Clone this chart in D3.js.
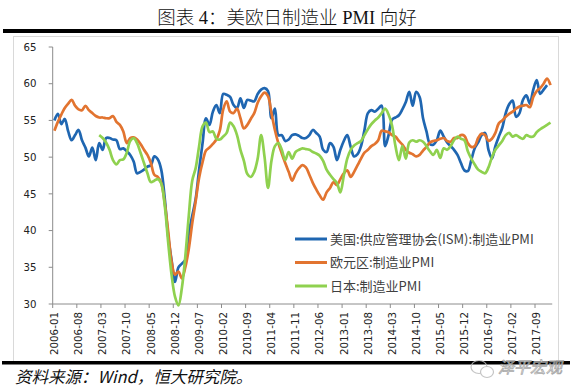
<!DOCTYPE html>
<html>
<head>
<meta charset="utf-8">
<script src="https://cdn.jsdelivr.net/npm/d3@7"></script>
<style>
  body { margin: 0; background: #fff; }
  svg { display: block; }
</style>
</head>
<body>
<svg id="chart"></svg>
<script>
// months 2006-01 .. 2018-01
const months = [];
for (let yr = 2006; yr <= 2018; yr++) {
  for (let m = 1; m <= 12; m++) {
    if (yr === 2018 && m > 1) break;
    months.push(yr + '-' + String(m).padStart(2, '0'));
  }
}

const tickLabels = ['2006-01', '2006-08', '2007-03', '2007-10', '2008-05', '2008-12', '2009-07',
  '2010-02', '2010-09', '2011-04', '2011-11', '2012-06', '2013-01', '2013-08', '2014-03',
  '2014-10', '2015-05', '2015-12', '2016-07', '2017-02', '2017-09'];

const yTicks = [30, 35, 40, 45, 50, 55, 60, 65];

const seriesNames = ['美国:供应管理协会(ISM):制造业PMI', '欧元区:制造业PMI', '日本:制造业PMI'];

// US ISM, 2006-01 .. 2017-12
const usIsm = [
  55.0, 55.9, 54.5, 55.2, 53.5, 52.3, 53.0, 53.7, 52.3, 51.3, 50.1, 51.3,
  49.6, 51.9, 51.0, 52.6, 52.6, 52.4, 52.3, 51.1, 51.2, 50.8, 50.3, 49.4,
  47.8, 48.0, 48.3, 48.7, 48.9, 50.1, 49.7, 48.3, 44.5, 39.3, 36.0, 33.0,
  35.0, 35.5, 36.0, 39.6, 42.0, 44.3, 48.3, 51.9, 55.3, 54.4, 56.2, 57.1,
  56.0, 58.6, 58.5, 58.2, 57.1, 56.7, 58.0, 56.7, 57.8, 57.7, 57.6, 58.6,
  59.2, 59.4, 59.0, 55.3, 56.6, 53.0, 53.0, 52.2, 52.4, 53.0, 53.1, 52.9,
  52.6, 52.6, 53.0, 53.7, 53.3, 52.8, 51.0, 50.7, 51.9, 51.4, 49.6, 51.0,
  52.2, 53.0, 51.4, 50.1, 50.4, 51.5, 53.7, 56.0, 56.4, 56.2, 56.6, 57.0,
  51.5, 53.0, 55.1, 55.4, 55.7, 56.5, 57.5, 58.9, 57.0, 58.9, 58.2, 55.3,
  53.5, 51.8, 51.7, 52.3, 53.6, 52.8, 52.0, 51.5, 51.0, 50.3, 49.2, 48.2,
  48.1, 49.6, 51.2, 52.0, 53.0, 53.3, 51.0, 49.8, 51.5, 52.8, 54.0, 56.0,
  57.2, 57.7, 55.5, 56.0, 57.8, 58.4, 57.3, 59.2, 60.5, 58.6, 59.2, 59.8
];

// Eurozone, 2006-01 .. 2018-01
const euroPmi = [
  53.6, 54.8, 55.8, 56.7, 57.3, 57.8, 57.0, 56.5, 56.4, 57.0, 56.4, 56.0,
  55.6, 55.4, 55.4, 55.3, 55.3, 55.6, 54.8, 54.4, 53.5, 51.9, 52.6, 52.7,
  52.4, 51.8, 51.0, 50.3, 49.2, 47.6, 47.3, 46.5, 43.8, 40.0, 35.8, 34.0,
  34.4, 33.5, 35.0, 37.5, 41.0, 44.0, 47.2, 49.3, 50.9, 51.3, 51.8, 52.4,
  53.6, 56.5, 57.6, 56.2, 56.0, 56.6, 55.3, 53.9, 54.4, 55.2, 56.0, 57.4,
  58.3, 58.8, 58.3, 56.0, 53.7, 51.9, 50.5, 49.2, 48.0, 46.8, 47.8, 48.5,
  48.9, 48.6, 47.6, 46.5, 45.6, 44.8, 44.2, 45.2, 45.8, 46.6, 46.2, 47.0,
  47.8, 48.2, 47.3, 48.0, 48.9, 49.8, 50.6, 51.0, 51.5, 51.8, 52.3, 53.6,
  53.5, 53.4, 53.0, 52.8, 52.2, 51.7, 51.0, 50.6, 50.4, 50.1, 50.3, 50.9,
  51.4, 52.0, 52.2, 52.3, 52.5, 52.6, 52.2, 52.1, 52.6, 52.6, 53.0, 52.9,
  51.9, 51.4, 51.5, 52.6, 53.2, 53.0, 52.2, 52.5, 53.3, 54.6, 55.0, 55.5,
  55.9, 56.2, 56.6, 56.9, 57.0, 57.1, 56.8, 58.2, 59.0, 59.4, 60.0, 60.7,
  59.8
];

// Japan, starts 2007-02
const japanPmi = [
  null, null, null, null, null, null, null, null, null, null, null, null,
  null, 53.0, 52.6, 52.0, 51.0, 49.6, 49.0, 49.6, 49.7, 50.6, 52.2, 52.6,
  51.9, 50.6, 49.2, 47.8, 46.6, 46.8, 47.0, 46.4, 43.5, 38.5, 34.0, 31.0,
  29.8, 32.2, 36.5, 42.0, 46.8, 48.5, 51.5, 54.2, 54.7, 53.4, 53.5, 52.5,
  52.4, 52.8, 53.3, 54.7, 54.2, 53.0, 51.0, 49.5, 47.7, 47.3, 48.0, 49.8,
  53.0, 50.0, 45.8, 49.5, 51.5, 51.9, 51.0, 49.6, 50.7, 49.8, 50.7, 51.0,
  51.2, 51.1, 51.0, 50.7, 50.5, 50.2, 49.5, 48.3, 47.6, 47.0, 46.5, 45.2,
  47.5, 49.8, 51.0, 51.6, 51.9, 52.2, 53.0, 53.8, 54.5, 55.0, 55.4, 56.0,
  56.6, 55.8, 54.3, 51.5, 49.6, 51.5, 49.8, 52.0, 52.3, 52.1, 52.3, 52.1,
  51.5, 50.8, 50.3, 51.0, 49.9, 51.2, 51.0, 51.5, 52.3, 52.8, 52.5, 52.3,
  50.8, 49.8, 49.0, 48.3, 48.0, 47.8, 48.6, 50.0, 51.0, 51.6, 52.2, 53.0,
  53.3, 52.8, 53.0, 52.7, 52.5, 53.0, 52.8, 52.8, 53.4, 53.8, 54.1, 54.4,
  54.7
];

const colors = ['#1f66b1', '#e27430', '#8fd14f'];
const series = [usIsm, euroPmi, japanPmi];

const width = 573, height = 391;
const svg = d3.select('#chart').attr('width', width).attr('height', height);

// title + rules
svg.append('text')
  .attr('x', 287).attr('y', 24)
  .attr('text-anchor', 'middle')
  .style('font-family', '"Liberation Serif", "Noto Sans CJK SC", serif')
  .style('font-size', '18.5px')
  .style('font-weight', 300)
  .attr('fill', '#111')
  .text('图表 4：美欧日制造业 PMI 向好');

svg.append('rect')
  .attr('x', 13.5).attr('y', 36.5).attr('width', 545).attr('height', 326)
  .attr('fill', 'none').attr('stroke', '#d9d9d9');

svg.append('rect').attr('x', 3).attr('y', 29).attr('width', 568).attr('height', 4).attr('fill', '#000');
svg.append('rect').attr('x', 2).attr('y', 361).attr('width', 568).attr('height', 3.5).attr('fill', '#000');

// scales
const x = d3.scaleBand().domain(months).range([52.7, 52.7 + months.length * 3.445]);
const y = d3.scaleLinear().domain([30, 65]).range([304, 47]);
const cx = m => x(m) + x.bandwidth() / 2;

const axisColor = '#8c8c8c';

// y axis
svg.append('line')
  .attr('x1', 52.7).attr('x2', 52.7).attr('y1', y(65)).attr('y2', y(30))
  .attr('stroke', axisColor);
svg.append('g').selectAll('line').data(yTicks).join('line')
  .attr('x1', 48.7).attr('x2', 52.7)
  .attr('y1', d => y(d)).attr('y2', d => y(d))
  .attr('stroke', axisColor);
svg.append('g').selectAll('text').data(yTicks).join('text')
  .attr('x', 36.5).attr('y', d => y(d))
  .attr('dy', '0.36em')
  .attr('text-anchor', 'end')
  .style('font-family', '"DejaVu Sans", sans-serif')
  .style('font-size', '10.2px')
  .attr('fill', '#222')
  .text(d => d);

// x axis
svg.append('line')
  .attr('x1', x.range()[0]).attr('x2', x.range()[1])
  .attr('y1', y(30)).attr('y2', y(30))
  .attr('stroke', axisColor);
svg.append('g').selectAll('line').data(tickLabels).join('line')
  .attr('x1', d => x(d)).attr('x2', d => x(d))
  .attr('y1', y(30)).attr('y2', y(30) + 4)
  .attr('stroke', axisColor);
svg.append('g').selectAll('text').data(tickLabels).join('text')
  .attr('transform', d => `translate(${cx(d)},${312}) rotate(-90)`)
  .attr('dy', '0.36em')
  .attr('text-anchor', 'end')
  .style('font-family', '"DejaVu Sans", sans-serif')
  .style('font-size', '10.3px')
  .attr('fill', '#222')
  .text(d => d);

// lines
const line = d3.line()
  .defined(d => d != null)
  .x((d, i) => cx(months[i]))
  .y(d => y(d))
  .curve(d3.curveCatmullRom.alpha(0.5));

svg.append('g').selectAll('path').data(series).join('path')
  .attr('d', d => line(d))
  .attr('fill', 'none')
  .attr('stroke', (d, i) => colors[i])
  .attr('stroke-width', 2.7)
  .attr('stroke-linejoin', 'round');

// legend
const legend = svg.append('g').selectAll('g').data(seriesNames).join('g')
  .attr('transform', (d, i) => `translate(295,${239 + i * 23.5})`);
legend.append('line')
  .attr('x1', 0).attr('x2', 32)
  .attr('stroke', (d, i) => colors[i])
  .attr('stroke-width', 3);
legend.append('text')
  .attr('x', 35).attr('dy', '0.36em')
  .style('font-family', '"Noto Sans CJK SC", sans-serif')
  .style('font-size', '13px')
  .attr('fill', '#404040')
  .text(d => d);

// source note
svg.append('text')
  .attr('x', 15).attr('y', 383)
  .style('font-family', '"Noto Sans CJK SC", sans-serif')
  .style('font-size', '16.5px')
  .style('font-style', 'italic')
  .attr('fill', '#111')
  .text('资料来源：Wind，恒大研究院。');

// watermark
const wm = svg.append('g').attr('opacity', 0.85);
wm.append('ellipse').attr('cx', 479).attr('cy', 367).attr('rx', 8).attr('ry', 6.5)
  .attr('fill', 'none').attr('stroke', '#bbb').attr('stroke-width', 1.2);
wm.append('ellipse').attr('cx', 487).attr('cy', 372).attr('rx', 6.5).attr('ry', 5.5)
  .attr('fill', '#fff').attr('stroke', '#bbb').attr('stroke-width', 1.2);
wm.append('text')
  .attr('x', 498).attr('y', 373)
  .style('font-family', '"Noto Sans CJK SC", sans-serif')
  .style('font-size', '16px')
  .style('font-style', 'italic')
  .attr('fill', '#fff').attr('stroke', '#9a9a9a').attr('stroke-width', 0.8)
  .text('泽平宏观');
</script>
</body>
</html>
